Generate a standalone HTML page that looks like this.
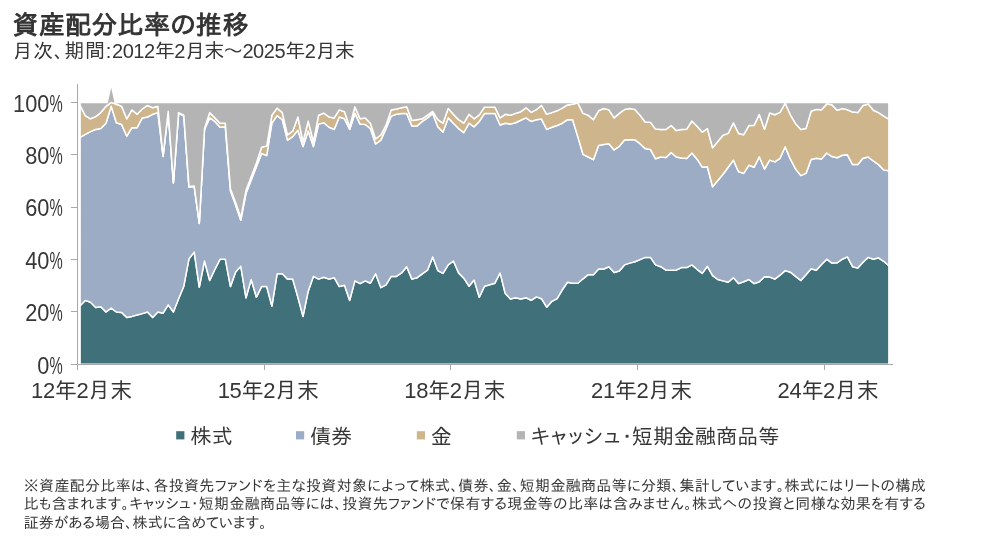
<!DOCTYPE html>
<html lang="ja"><head><meta charset="utf-8"><title>資産配分比率の推移</title>
<style>html,body{margin:0;padding:0;background:#fff;overflow:hidden}body{width:988px;height:540px}svg{display:block}svg text{font-family:"Liberation Sans","IPAPGothic","IPAGothic","Noto Sans CJK JP",sans-serif;fill:#363636}</style>
</head><body>
<svg width="988" height="540" viewBox="0 0 988 540">
<rect width="988" height="540" fill="#fff"/>
<g stroke="#fff" stroke-width="1.5" stroke-linejoin="round">
<polygon fill="#40717a" points="80.1,305.8 85.3,300.4 90.5,302.2 95.7,307.6 100.8,306.7 106.0,312.0 111.2,308.1 116.4,312.0 121.6,312.4 126.8,317.5 131.9,316.4 137.1,315.0 142.3,313.6 147.5,312.0 152.7,317.5 157.9,312.0 163.1,313.2 168.2,304.9 173.4,312.0 178.6,298.7 183.8,286.2 189.0,258.7 194.2,252.1 199.3,287.1 204.5,261.0 209.7,280.5 214.9,269.3 220.1,259.2 225.3,259.2 230.5,286.6 235.6,272.0 240.8,266.3 246.0,297.8 251.2,279.5 256.4,297.2 261.6,286.6 266.7,286.6 271.9,306.1 277.1,273.8 282.3,273.8 287.5,279.1 292.7,279.1 297.9,297.2 303.0,316.4 308.2,291.2 313.4,276.4 318.6,279.1 323.8,277.3 329.0,279.1 334.2,277.7 339.3,286.6 344.5,285.3 349.7,300.4 354.9,280.9 360.1,283.6 365.3,280.9 370.4,283.2 375.6,273.8 380.8,287.6 386.0,284.9 391.2,276.4 396.4,276.4 401.6,272.9 406.7,266.7 411.9,279.1 417.1,277.7 422.3,273.8 427.5,270.2 432.7,256.9 437.8,270.6 443.0,273.4 448.2,264.9 453.4,261.0 458.6,272.9 463.8,278.2 469.0,286.2 474.1,280.0 479.3,297.2 484.5,286.2 489.7,284.8 494.9,283.2 500.1,272.9 505.2,293.3 510.4,299.0 515.6,297.8 520.8,299.0 526.0,297.8 531.2,300.3 536.4,296.9 541.5,298.7 546.7,307.2 551.9,301.3 557.1,298.7 562.3,289.8 567.5,282.3 572.6,283.2 577.8,283.2 583.0,278.8 588.2,274.7 593.4,274.7 598.6,269.0 603.8,269.0 608.9,266.7 614.1,272.4 619.3,271.1 624.5,264.9 629.7,263.1 634.9,261.7 640.0,259.6 645.2,257.4 650.4,257.4 655.6,264.9 660.8,266.7 666.0,270.2 671.2,270.2 676.3,270.0 681.5,267.6 686.7,267.6 691.9,264.9 697.1,269.3 702.3,273.4 707.4,266.3 712.6,275.6 717.8,279.5 723.0,280.9 728.2,282.3 733.4,277.7 738.6,283.6 743.7,281.8 748.9,279.5 754.1,283.6 759.3,281.8 764.5,276.7 769.7,277.0 774.8,279.1 780.0,275.2 785.2,270.6 790.4,272.2 795.6,276.4 800.8,280.5 806.0,274.7 811.1,268.8 816.3,270.2 821.5,264.5 826.7,259.2 831.9,263.1 837.1,262.8 842.3,259.2 847.4,256.9 852.6,266.7 857.8,268.1 863.0,262.2 868.2,257.4 873.4,259.2 878.5,257.8 883.7,261.3 888.9,265.8 888.9,364.3 80.1,364.3"/>
<polygon fill="#9cacc4" points="80.1,137.4 85.3,134.4 90.5,131.6 95.7,129.4 100.8,128.6 106.0,123.2 111.2,106.2 116.4,122.7 121.6,124.5 126.8,136.2 131.9,127.7 137.1,127.7 142.3,117.9 147.5,117.0 152.7,114.3 157.9,112.6 163.1,156.5 168.2,111.9 173.4,183.0 178.6,113.2 183.8,116.1 189.0,187.1 194.2,186.6 199.3,223.4 204.5,129.4 209.7,117.9 214.9,121.4 220.1,127.3 225.3,126.8 230.5,190.9 235.6,205.0 240.8,220.2 246.0,193.3 251.2,180.0 256.4,166.7 261.6,153.5 266.7,155.5 271.9,123.2 277.1,115.6 282.3,119.7 287.5,140.1 292.7,136.6 297.9,130.2 303.0,146.5 308.2,131.0 313.4,146.5 318.6,124.1 323.8,122.7 329.0,127.3 334.2,129.4 339.3,117.0 344.5,118.8 349.7,129.4 354.9,113.4 360.1,124.1 365.3,124.5 370.4,128.6 375.6,144.0 380.8,140.1 386.0,128.6 391.2,116.1 396.4,114.3 401.6,113.4 406.7,113.4 411.9,125.9 417.1,125.9 422.3,121.4 427.5,117.9 432.7,113.4 437.8,126.8 443.0,132.1 448.2,117.9 453.4,123.2 458.6,128.6 463.8,132.6 469.0,123.2 474.1,126.8 479.3,121.4 484.5,113.4 489.7,113.4 494.9,113.4 500.1,125.0 505.2,123.2 510.4,124.1 515.6,122.7 520.8,120.2 526.0,117.9 531.2,121.4 536.4,119.7 541.5,119.1 546.7,129.4 551.9,127.3 557.1,125.5 562.3,123.2 567.5,119.7 572.6,119.7 577.8,136.6 583.0,154.3 588.2,157.0 593.4,159.7 598.6,145.4 603.8,144.6 608.9,143.7 614.1,149.9 619.3,146.3 624.5,140.1 629.7,139.8 634.9,139.8 640.0,143.7 645.2,148.6 650.4,149.4 655.6,158.8 660.8,157.0 666.0,157.5 671.2,152.6 676.3,157.0 681.5,158.1 686.7,158.6 691.9,153.0 697.1,159.2 702.3,167.2 707.4,166.7 712.6,186.8 717.8,180.6 723.0,174.3 728.2,167.2 733.4,160.1 738.6,171.7 743.7,173.4 748.9,165.2 754.1,167.2 759.3,156.8 764.5,169.0 769.7,160.1 774.8,161.9 780.0,158.3 785.2,146.8 790.4,159.2 795.6,169.0 800.8,175.6 806.0,173.4 811.1,159.4 816.3,158.3 821.5,158.9 826.7,153.0 831.9,156.6 837.1,157.8 842.3,155.3 847.4,154.8 852.6,164.6 857.8,164.6 863.0,158.3 868.2,157.1 873.4,161.0 878.5,164.6 883.7,169.9 888.9,170.8 888.9,265.8 883.7,261.3 878.5,257.8 873.4,259.2 868.2,257.4 863.0,262.2 857.8,268.1 852.6,266.7 847.4,256.9 842.3,259.2 837.1,262.8 831.9,263.1 826.7,259.2 821.5,264.5 816.3,270.2 811.1,268.8 806.0,274.7 800.8,280.5 795.6,276.4 790.4,272.2 785.2,270.6 780.0,275.2 774.8,279.1 769.7,277.0 764.5,276.7 759.3,281.8 754.1,283.6 748.9,279.5 743.7,281.8 738.6,283.6 733.4,277.7 728.2,282.3 723.0,280.9 717.8,279.5 712.6,275.6 707.4,266.3 702.3,273.4 697.1,269.3 691.9,264.9 686.7,267.6 681.5,267.6 676.3,270.0 671.2,270.2 666.0,270.2 660.8,266.7 655.6,264.9 650.4,257.4 645.2,257.4 640.0,259.6 634.9,261.7 629.7,263.1 624.5,264.9 619.3,271.1 614.1,272.4 608.9,266.7 603.8,269.0 598.6,269.0 593.4,274.7 588.2,274.7 583.0,278.8 577.8,283.2 572.6,283.2 567.5,282.3 562.3,289.8 557.1,298.7 551.9,301.3 546.7,307.2 541.5,298.7 536.4,296.9 531.2,300.3 526.0,297.8 520.8,299.0 515.6,297.8 510.4,299.0 505.2,293.3 500.1,272.9 494.9,283.2 489.7,284.8 484.5,286.2 479.3,297.2 474.1,280.0 469.0,286.2 463.8,278.2 458.6,272.9 453.4,261.0 448.2,264.9 443.0,273.4 437.8,270.6 432.7,256.9 427.5,270.2 422.3,273.8 417.1,277.7 411.9,279.1 406.7,266.7 401.6,272.9 396.4,276.4 391.2,276.4 386.0,284.9 380.8,287.6 375.6,273.8 370.4,283.2 365.3,280.9 360.1,283.6 354.9,280.9 349.7,300.4 344.5,285.3 339.3,286.6 334.2,277.7 329.0,279.1 323.8,277.3 318.6,279.1 313.4,276.4 308.2,291.2 303.0,316.4 297.9,297.2 292.7,279.1 287.5,279.1 282.3,273.8 277.1,273.8 271.9,306.1 266.7,286.6 261.6,286.6 256.4,297.2 251.2,279.5 246.0,297.8 240.8,266.3 235.6,272.0 230.5,286.6 225.3,259.2 220.1,259.2 214.9,269.3 209.7,280.5 204.5,261.0 199.3,287.1 194.2,252.1 189.0,258.7 183.8,286.2 178.6,298.7 173.4,312.0 168.2,304.9 163.1,313.2 157.9,312.0 152.7,317.5 147.5,312.0 142.3,313.6 137.1,315.0 131.9,316.4 126.8,317.5 121.6,312.4 116.4,312.0 111.2,308.1 106.0,312.0 100.8,306.7 95.7,307.6 90.5,302.2 85.3,300.4 80.1,305.8"/>
<polygon fill="#ceb58b" points="80.1,105.4 85.3,115.6 90.5,118.8 95.7,116.6 100.8,112.6 106.0,106.3 111.2,102.4 116.4,104.2 121.6,106.3 126.8,118.8 131.9,109.9 137.1,114.3 142.3,109.0 147.5,105.4 152.7,107.8 157.9,106.3 163.1,155.8 168.2,111.3 173.4,182.6 178.6,112.6 183.8,115.2 189.0,186.6 194.2,186.1 199.3,222.8 204.5,128.6 209.7,112.6 214.9,117.9 220.1,123.2 225.3,123.2 230.5,189.0 235.6,202.6 240.8,217.6 246.0,190.3 251.2,176.8 256.4,163.0 261.6,147.2 266.7,146.0 271.9,115.2 277.1,108.1 282.3,112.6 287.5,134.8 292.7,131.2 297.9,117.0 303.0,141.9 308.2,121.1 313.4,141.9 318.6,115.2 323.8,113.1 329.0,117.0 334.2,117.9 339.3,109.9 344.5,111.7 349.7,126.8 354.9,106.7 360.1,118.8 365.3,117.9 370.4,123.2 375.6,138.8 380.8,135.0 386.0,125.0 391.2,109.9 396.4,109.0 401.6,107.8 406.7,106.7 411.9,120.6 417.1,119.7 422.3,118.8 427.5,115.2 432.7,111.3 437.8,119.7 443.0,123.2 448.2,108.5 453.4,114.3 458.6,119.7 463.8,123.2 469.0,114.3 474.1,118.8 479.3,114.9 484.5,107.2 489.7,107.2 494.9,107.2 500.1,117.9 505.2,114.3 510.4,115.2 515.6,113.4 520.8,111.7 526.0,107.8 531.2,112.3 536.4,109.7 541.5,105.4 546.7,114.3 551.9,112.6 557.1,110.8 562.3,108.1 567.5,104.9 572.6,104.2 577.8,102.8 583.0,113.4 588.2,115.2 593.4,119.7 598.6,110.8 603.8,108.5 608.9,109.9 614.1,117.9 619.3,113.4 624.5,109.5 629.7,108.5 634.9,109.5 640.0,115.2 645.2,122.0 650.4,122.3 655.6,129.1 660.8,129.4 666.0,129.4 671.2,125.5 676.3,130.6 681.5,129.4 686.7,129.2 691.9,121.0 697.1,126.3 702.3,132.2 707.4,128.6 712.6,147.7 717.8,141.4 723.0,135.2 728.2,133.4 733.4,122.8 738.6,133.4 743.7,134.7 748.9,125.6 754.1,125.4 759.3,114.4 764.5,129.2 769.7,113.0 774.8,114.8 780.0,112.4 785.2,103.2 790.4,114.8 795.6,123.7 800.8,129.4 806.0,128.6 811.1,111.2 816.3,109.4 821.5,109.8 826.7,104.1 831.9,104.7 837.1,110.3 842.3,108.6 847.4,109.8 852.6,112.1 857.8,112.6 863.0,105.5 868.2,104.1 873.4,110.3 878.5,112.6 883.7,116.2 888.9,119.2 888.9,170.8 883.7,169.9 878.5,164.6 873.4,161.0 868.2,157.1 863.0,158.3 857.8,164.6 852.6,164.6 847.4,154.8 842.3,155.3 837.1,157.8 831.9,156.6 826.7,153.0 821.5,158.9 816.3,158.3 811.1,159.4 806.0,173.4 800.8,175.6 795.6,169.0 790.4,159.2 785.2,146.8 780.0,158.3 774.8,161.9 769.7,160.1 764.5,169.0 759.3,156.8 754.1,167.2 748.9,165.2 743.7,173.4 738.6,171.7 733.4,160.1 728.2,167.2 723.0,174.3 717.8,180.6 712.6,186.8 707.4,166.7 702.3,167.2 697.1,159.2 691.9,153.0 686.7,158.6 681.5,158.1 676.3,157.0 671.2,152.6 666.0,157.5 660.8,157.0 655.6,158.8 650.4,149.4 645.2,148.6 640.0,143.7 634.9,139.8 629.7,139.8 624.5,140.1 619.3,146.3 614.1,149.9 608.9,143.7 603.8,144.6 598.6,145.4 593.4,159.7 588.2,157.0 583.0,154.3 577.8,136.6 572.6,119.7 567.5,119.7 562.3,123.2 557.1,125.5 551.9,127.3 546.7,129.4 541.5,119.1 536.4,119.7 531.2,121.4 526.0,117.9 520.8,120.2 515.6,122.7 510.4,124.1 505.2,123.2 500.1,125.0 494.9,113.4 489.7,113.4 484.5,113.4 479.3,121.4 474.1,126.8 469.0,123.2 463.8,132.6 458.6,128.6 453.4,123.2 448.2,117.9 443.0,132.1 437.8,126.8 432.7,113.4 427.5,117.9 422.3,121.4 417.1,125.9 411.9,125.9 406.7,113.4 401.6,113.4 396.4,114.3 391.2,116.1 386.0,128.6 380.8,140.1 375.6,144.0 370.4,128.6 365.3,124.5 360.1,124.1 354.9,113.4 349.7,129.4 344.5,118.8 339.3,117.0 334.2,129.4 329.0,127.3 323.8,122.7 318.6,124.1 313.4,146.5 308.2,131.0 303.0,146.5 297.9,130.2 292.7,136.6 287.5,140.1 282.3,119.7 277.1,115.6 271.9,123.2 266.7,155.5 261.6,153.5 256.4,166.7 251.2,180.0 246.0,193.3 240.8,220.2 235.6,205.0 230.5,190.9 225.3,126.8 220.1,127.3 214.9,121.4 209.7,117.9 204.5,129.4 199.3,223.4 194.2,186.6 189.0,187.1 183.8,116.1 178.6,113.2 173.4,183.0 168.2,111.9 163.1,156.5 157.9,112.6 152.7,114.3 147.5,117.0 142.3,117.9 137.1,127.7 131.9,127.7 126.8,136.2 121.6,124.5 116.4,122.7 111.2,106.2 106.0,123.2 100.8,128.6 95.7,129.4 90.5,131.6 85.3,134.4 80.1,137.4"/>
<polygon fill="#b4b4b4" points="80.1,102.4 85.3,102.4 90.5,102.4 95.7,102.4 100.8,102.4 106.0,102.4 107.2,102.4 111.2,84.3 115.2,102.4 116.4,102.4 121.6,102.4 126.8,102.4 131.9,102.4 137.1,102.4 142.3,102.4 147.5,102.4 152.7,102.4 157.9,102.4 163.1,102.4 168.2,102.4 173.4,102.4 178.6,102.4 183.8,102.4 189.0,102.4 194.2,102.4 199.3,102.4 204.5,102.4 209.7,102.4 214.9,102.4 220.1,102.4 225.3,102.4 230.5,102.4 235.6,102.4 240.8,102.4 246.0,102.4 251.2,102.4 256.4,102.4 261.6,102.4 266.7,102.4 271.9,102.4 277.1,102.4 282.3,102.4 287.5,102.4 292.7,102.4 297.9,102.4 303.0,102.4 308.2,102.4 313.4,102.4 318.6,102.4 323.8,102.4 329.0,102.4 334.2,102.4 339.3,102.4 344.5,102.4 349.7,102.4 354.9,102.4 360.1,102.4 365.3,102.4 370.4,102.4 375.6,102.4 380.8,102.4 386.0,102.4 391.2,102.4 396.4,102.4 401.6,102.4 406.7,102.4 411.9,102.4 417.1,102.4 422.3,102.4 427.5,102.4 432.7,102.4 437.8,102.4 443.0,102.4 448.2,102.4 453.4,102.4 458.6,102.4 463.8,102.4 469.0,102.4 474.1,102.4 479.3,102.4 484.5,102.4 489.7,102.4 494.9,102.4 500.1,102.4 505.2,102.4 510.4,102.4 515.6,102.4 520.8,102.4 526.0,102.4 531.2,102.4 536.4,102.4 541.5,102.4 546.7,102.4 551.9,102.4 557.1,102.4 562.3,102.4 567.5,102.4 572.6,102.4 577.8,102.4 583.0,102.4 588.2,102.4 593.4,102.4 598.6,102.4 603.8,102.4 608.9,102.4 614.1,102.4 619.3,102.4 624.5,102.4 629.7,102.4 634.9,102.4 640.0,102.4 645.2,102.4 650.4,102.4 655.6,102.4 660.8,102.4 666.0,102.4 671.2,102.4 676.3,102.4 681.5,102.4 686.7,102.4 691.9,102.4 697.1,102.4 702.3,102.4 707.4,102.4 712.6,102.4 717.8,102.4 723.0,102.4 728.2,102.4 733.4,102.4 738.6,102.4 743.7,102.4 748.9,102.4 754.1,102.4 759.3,102.4 764.5,102.4 769.7,102.4 774.8,102.4 780.0,102.4 785.2,102.4 790.4,102.4 795.6,102.4 800.8,102.4 806.0,102.4 811.1,102.4 816.3,102.4 821.5,102.4 826.7,102.4 831.9,102.4 837.1,102.4 842.3,102.4 847.4,102.4 852.6,102.4 857.8,102.4 863.0,102.4 868.2,102.4 873.4,102.4 878.5,102.4 883.7,102.4 888.9,102.4 888.9,119.2 883.7,116.2 878.5,112.6 873.4,110.3 868.2,104.1 863.0,105.5 857.8,112.6 852.6,112.1 847.4,109.8 842.3,108.6 837.1,110.3 831.9,104.7 826.7,104.1 821.5,109.8 816.3,109.4 811.1,111.2 806.0,128.6 800.8,129.4 795.6,123.7 790.4,114.8 785.2,103.2 780.0,112.4 774.8,114.8 769.7,113.0 764.5,129.2 759.3,114.4 754.1,125.4 748.9,125.6 743.7,134.7 738.6,133.4 733.4,122.8 728.2,133.4 723.0,135.2 717.8,141.4 712.6,147.7 707.4,128.6 702.3,132.2 697.1,126.3 691.9,121.0 686.7,129.2 681.5,129.4 676.3,130.6 671.2,125.5 666.0,129.4 660.8,129.4 655.6,129.1 650.4,122.3 645.2,122.0 640.0,115.2 634.9,109.5 629.7,108.5 624.5,109.5 619.3,113.4 614.1,117.9 608.9,109.9 603.8,108.5 598.6,110.8 593.4,119.7 588.2,115.2 583.0,113.4 577.8,102.8 572.6,104.2 567.5,104.9 562.3,108.1 557.1,110.8 551.9,112.6 546.7,114.3 541.5,105.4 536.4,109.7 531.2,112.3 526.0,107.8 520.8,111.7 515.6,113.4 510.4,115.2 505.2,114.3 500.1,117.9 494.9,107.2 489.7,107.2 484.5,107.2 479.3,114.9 474.1,118.8 469.0,114.3 463.8,123.2 458.6,119.7 453.4,114.3 448.2,108.5 443.0,123.2 437.8,119.7 432.7,111.3 427.5,115.2 422.3,118.8 417.1,119.7 411.9,120.6 406.7,106.7 401.6,107.8 396.4,109.0 391.2,109.9 386.0,125.0 380.8,135.0 375.6,138.8 370.4,123.2 365.3,117.9 360.1,118.8 354.9,106.7 349.7,126.8 344.5,111.7 339.3,109.9 334.2,117.9 329.0,117.0 323.8,113.1 318.6,115.2 313.4,141.9 308.2,121.1 303.0,141.9 297.9,117.0 292.7,131.2 287.5,134.8 282.3,112.6 277.1,108.1 271.9,115.2 266.7,146.0 261.6,147.2 256.4,163.0 251.2,176.8 246.0,190.3 240.8,217.6 235.6,202.6 230.5,189.0 225.3,123.2 220.1,123.2 214.9,117.9 209.7,112.6 204.5,128.6 199.3,222.8 194.2,186.1 189.0,186.6 183.8,115.2 178.6,112.6 173.4,182.6 168.2,111.3 163.1,155.8 157.9,106.3 152.7,107.8 147.5,105.4 142.3,109.0 137.1,114.3 131.9,109.9 126.8,118.8 121.6,106.3 116.4,104.2 111.2,102.4 106.0,106.3 100.8,112.6 95.7,116.6 90.5,118.8 85.3,115.6 80.1,105.4"/>
</g>
<g stroke="#a8a8a8" stroke-width="1" fill="none" shape-rendering="crispEdges">
<line x1="77.5" y1="84" x2="77.5" y2="370"/>
<line x1="77" y1="364.5" x2="893" y2="364.5"/>
<line x1="71" y1="364.5" x2="78" y2="364.5"/>
<line x1="71" y1="311.5" x2="78" y2="311.5"/>
<line x1="71" y1="259.5" x2="78" y2="259.5"/>
<line x1="71" y1="207.5" x2="78" y2="207.5"/>
<line x1="71" y1="154.5" x2="78" y2="154.5"/>
<line x1="71" y1="102.5" x2="78" y2="102.5"/>
<line x1="264.5" y1="364" x2="264.5" y2="370"/>
<line x1="450.5" y1="364" x2="450.5" y2="370"/>
<line x1="637.5" y1="364" x2="637.5" y2="370"/>
<line x1="824.5" y1="364" x2="824.5" y2="370"/>
</g>
<text id="yl0" x="37.3" y="373.5" font-size="23.5"><tspan textLength="12.1" lengthAdjust="spacingAndGlyphs">0</tspan><tspan textLength="13.2" lengthAdjust="spacingAndGlyphs">%</tspan></text>
<text id="yl20" x="25.2" y="321.1" font-size="23.5"><tspan textLength="24.2" lengthAdjust="spacingAndGlyphs">20</tspan><tspan textLength="13.2" lengthAdjust="spacingAndGlyphs">%</tspan></text>
<text id="yl40" x="25.2" y="268.7" font-size="23.5"><tspan textLength="24.2" lengthAdjust="spacingAndGlyphs">40</tspan><tspan textLength="13.2" lengthAdjust="spacingAndGlyphs">%</tspan></text>
<text id="yl60" x="25.2" y="216.4" font-size="23.5"><tspan textLength="24.2" lengthAdjust="spacingAndGlyphs">60</tspan><tspan textLength="13.2" lengthAdjust="spacingAndGlyphs">%</tspan></text>
<text id="yl80" x="25.2" y="164.0" font-size="23.5"><tspan textLength="24.2" lengthAdjust="spacingAndGlyphs">80</tspan><tspan textLength="13.2" lengthAdjust="spacingAndGlyphs">%</tspan></text>
<text id="yl100" x="13.1" y="111.6" font-size="23.5"><tspan textLength="36.3" lengthAdjust="spacingAndGlyphs">100</tspan><tspan textLength="13.2" lengthAdjust="spacingAndGlyphs">%</tspan></text>
<text id="xl0" x="31.0" y="398.3" font-size="22" textLength="101" lengthAdjust="spacing">12年2月末</text>
<text id="xl1" x="217.7" y="398.3" font-size="22" textLength="101" lengthAdjust="spacing">15年2月末</text>
<text id="xl2" x="404.3" y="398.3" font-size="22" textLength="101" lengthAdjust="spacing">18年2月末</text>
<text id="xl3" x="591.0" y="398.3" font-size="22" textLength="101" lengthAdjust="spacing">21年2月末</text>
<text id="xl4" x="777.6" y="398.3" font-size="22" textLength="101" lengthAdjust="spacing">24年2月末</text>
<rect x="176.2" y="431.2" width="8.2" height="8.2" fill="#40717a"/>
<text id="lg0" x="190.5" y="443.5" font-size="21">株式</text>
<rect x="296" y="431.2" width="8.2" height="8.2" fill="#9cacc4"/>
<text id="lg1" x="310.3" y="443.5" font-size="21">債券</text>
<rect x="416.8" y="431.2" width="8.2" height="8.2" fill="#ceb58b"/>
<text id="lg2" x="431.1" y="443.5" font-size="21">金</text>
<rect x="516.8" y="431.2" width="8.2" height="8.2" fill="#b4b4b4"/>
<text id="lg3" x="531.1" y="443.5" font-size="21"><tspan letter-spacing="1.3">キャッシュ</tspan><tspan letter-spacing="-0.5">･</tspan><tspan letter-spacing="0.1">短期金融商品等</tspan></text>
<text id="title" x="12.4" y="33.6" font-size="26" textLength="236" lengthAdjust="spacing" style="fill:#333;stroke:#333;stroke-width:0.9;stroke-linejoin:round">資産配分比率の推移</text>
<text id="sub" x="12.5" y="58.3" font-size="20"><tspan textLength="98.8" lengthAdjust="spacing">月次、期間:</tspan><tspan textLength="243" lengthAdjust="spacing">2012年2月末～2025年2月末</tspan></text>
<text id="fn0" x="23.8" y="490.6" font-size="15.0" textLength="902" lengthAdjust="spacing">※資産配分比率は、各投資先ファンドを主な投資対象によって株式、債券、金、短期金融商品等に分類、集計しています。株式にはリートの構成</text>
<text id="fn1" x="23.8" y="509.3" font-size="15.0" textLength="902" lengthAdjust="spacing">比も含まれます。キャッシュ･短期金融商品等には、投資先ファンドで保有する現金等の比率は含みません。株式への投資と同様な効果を有する</text>
<text id="fn2" x="23.8" y="528.0" font-size="15.0" textLength="243" lengthAdjust="spacing">証券がある場合、株式に含めています。</text>
</svg>
</body></html>
